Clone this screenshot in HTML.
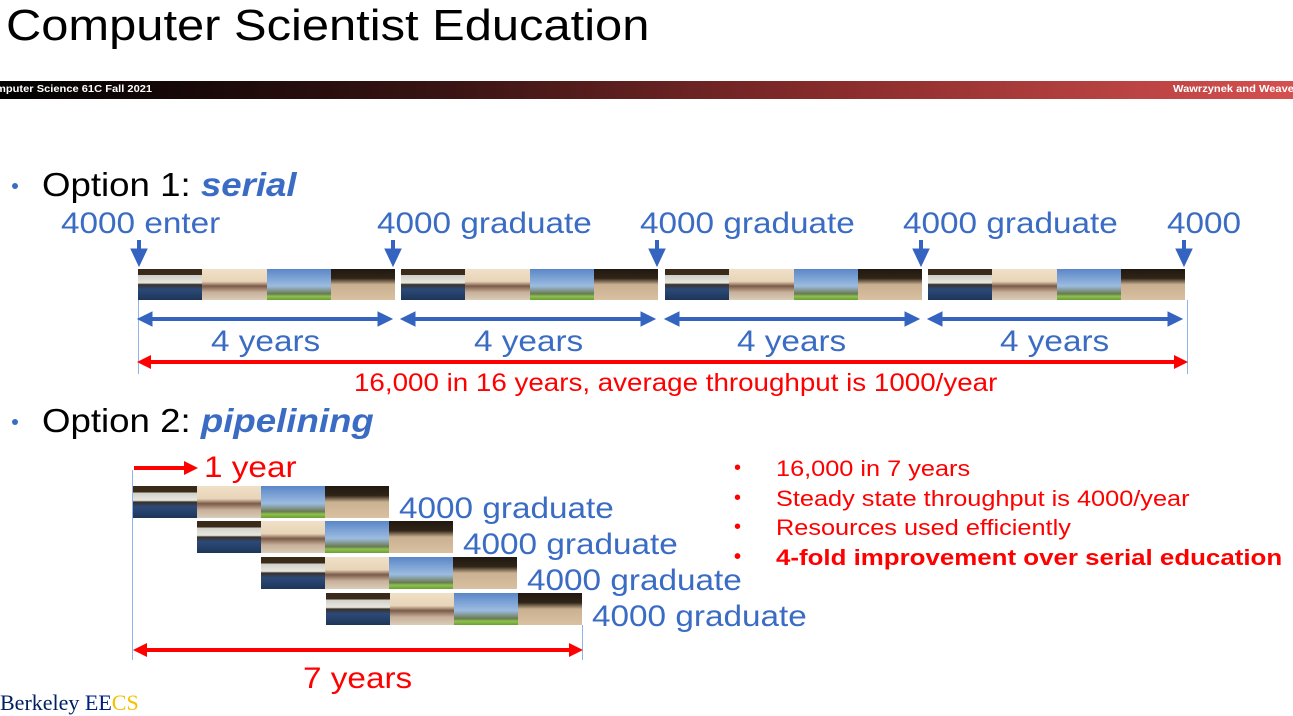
<!DOCTYPE html>
<html><head><meta charset="utf-8">
<style>
body{margin:0;width:1293px;height:699px;position:relative;overflow:hidden;background:#fff;font-family:"Liberation Sans",Arial,sans-serif}
.a{position:absolute;white-space:nowrap}
.s{transform:scaleX(1.11);transform-origin:0 0}
.blue{color:#3b6cc4}
.red{color:#f00}
.t1{background:linear-gradient(#3a2a1a 0,#3a2a1a 20%,#cfcfc8 20%,#e8e8e0 45%,#3a3028 50%,#2c4a78 65%,#1d3558 100%)}
.t2{background:linear-gradient(#f0e0c8 0,#e8d4b8 40%,#7a5a48 55%,#c8b09a 75%,#d8ccb8 100%)}
.t3{background:linear-gradient(#5a86c8 0,#9cbce0 55%,#6a7a50 80%,#8ec04a 88%,#6aa038 100%)}
.t4{background:linear-gradient(#201810 0,#302418 30%,#c8b090 50%,#d8c0a0 100%)}
.tile{position:absolute;height:100%;width:25%;top:0}
.v{position:absolute;width:1px;background:#8fb4e8}
.dot{position:absolute;width:6px;height:6px;border-radius:50%;background:#3b6cc4}
</style></head><body>
<div class="a s" style="left:6px;top:1px;font-size:44px;color:#000">Computer Scientist Education</div>
<div class="a" style="left:0;top:81px;width:1293px;height:18px;background:linear-gradient(90deg,#000 0%,#3a1414 35%,#8a2c2c 65%,#d55050 100%)"></div>
<div class="a s" style="left:-4px;top:84px;font-size:10px;font-weight:bold;color:#fff">mputer Science 61C Fall 2021</div>
<div class="a s" style="left:1173px;top:84px;font-size:10px;font-weight:bold;color:#fff">Wawrzynek and Weaver</div>

<div class="dot" style="left:12px;top:183px"></div>
<div class="dot" style="left:12px;top:419px"></div>
<div class="a s" style="left:42px;top:166px;font-size:33px">Option 1: <b class="blue"><i>serial</i></b></div>
<div class="a s" style="left:42px;top:402px;font-size:33px">Option 2: <b class="blue"><i>pipelining</i></b></div>

<div class="a blue s" style="left:61px;top:207px;font-size:30px">4000 enter</div>
<div class="a blue s" style="left:377px;top:207px;font-size:30px">4000 graduate</div>
<div class="a blue s" style="left:640px;top:207px;font-size:30px">4000 graduate</div>
<div class="a blue s" style="left:903px;top:207px;font-size:30px">4000 graduate</div>
<div class="a blue s" style="left:1167px;top:207px;font-size:30px">4000</div>

<div class="v" style="left:138px;top:300px;height:74px"></div>
<div class="v" style="left:1187px;top:300px;height:74px"></div>
<div class="v" style="left:132px;top:470px;height:190px"></div>
<div class="v" style="left:582px;top:625px;height:35px"></div>

<svg class="a" style="left:0;top:0" width="1293" height="699">
<g fill="#3564c0" stroke="#3564c0">
<g id="down"></g>
<g id="yrs"></g>
</g>
<line x1="150" y1="362" x2="1176" y2="362" stroke="#f00" stroke-width="4"/>
<polygon points="137,362 151,355 151,369" fill="#f00"/><polygon points="1188,362 1174,355 1174,369" fill="#f00"/>
<line x1="134" y1="468" x2="186" y2="468" stroke="#f00" stroke-width="4"/>
<polygon points="198,468 184,461 184,475" fill="#f00"/>
<line x1="146" y1="650" x2="570" y2="650" stroke="#f00" stroke-width="4"/>
<polygon points="133,650 147,643 147,657" fill="#f00"/><polygon points="583,650 569,643 569,657" fill="#f00"/>
</svg>

<div class="a blue s" style="left:211px;top:325px;font-size:30px">4 years</div>
<div class="a blue s" style="left:474px;top:325px;font-size:30px">4 years</div>
<div class="a blue s" style="left:737px;top:325px;font-size:30px">4 years</div>
<div class="a blue s" style="left:1000px;top:325px;font-size:30px">4 years</div>
<div class="a red s" style="left:354px;top:369px;font-size:25px">16,000 in 16 years, average throughput is 1000/year</div>

<div class="a red s" style="left:204px;top:451px;font-size:30px">1 year</div>
<div class="a blue s" style="left:399px;top:492px;font-size:30px">4000 graduate</div>
<div class="a blue s" style="left:463px;top:528px;font-size:30px">4000 graduate</div>
<div class="a blue s" style="left:527px;top:564px;font-size:30px">4000 graduate</div>
<div class="a blue s" style="left:592px;top:600px;font-size:30px">4000 graduate</div>
<div class="a red s" style="left:303px;top:662px;font-size:30px">7 years</div>

<div class="a red" style="left:734px;top:454px;font-size:20px;line-height:29.5px">
<div>•</div><div>•</div><div>•</div><div style="font-weight:bold">•</div></div>
<div class="a red" style="left:776px;top:454px;font-size:22px;line-height:29.5px;transform:scaleX(1.15);transform-origin:0 0">
<div>16,000 in 7 years</div>
<div>Steady state throughput is 4000/year</div>
<div>Resources used efficiently</div>
<div style="font-weight:bold;font-size:22.5px">4-fold improvement over serial education</div>
</div>
<div class="a" style="left:0;top:690px;font-size:22px;font-family:'Liberation Serif',serif"><span style="color:#002060">Berkeley</span> <span style="color:#002080">EE</span><span style="color:#f5c000">CS</span></div>

<script>
const serialX=[138,401,665,928];
const pipeX=[133,197,261,326];
const pipeY=[486,521,557,593];
function strip(x,y,w,h,name){
  const d=document.createElement('div');
  d.className='a';
  d.style.cssText=`left:${x}px;top:${y}px;width:${w}px;height:${h}px`;
  
  
  for(let i=0;i<4;i++){const t=document.createElement('div');t.className='tile t'+(i+1);t.style.left=(i*25)+'%';d.appendChild(t);}
  document.body.appendChild(d);
}
serialX.forEach((x,i)=>strip(x,269,257,31,'serial-images-'+(i+1)));
pipeX.forEach((x,i)=>strip(x,pipeY[i],256,32,'pipeline-images-'+(i+1)));
const down=document.getElementById('down');
[139,393,657,921,1184].forEach(x=>{
  down.innerHTML+=`<line x1="${x}" y1="240" x2="${x}" y2="252" stroke-width="4"/><polygon points="${x-8},249 ${x+8},249 ${x},266"/>`;
});
const yrs=document.getElementById('yrs');
serialX.forEach(x=>{
  const a=x,b=x+254;
  yrs.innerHTML+=`<line x1="${a+10}" y1="319" x2="${b-10}" y2="319" stroke-width="4"/><polygon points="${a},319 ${a+14},312 ${a+14},326"/><polygon points="${b},319 ${b-14},312 ${b-14},326"/>`;
});
</script>
</body></html>
